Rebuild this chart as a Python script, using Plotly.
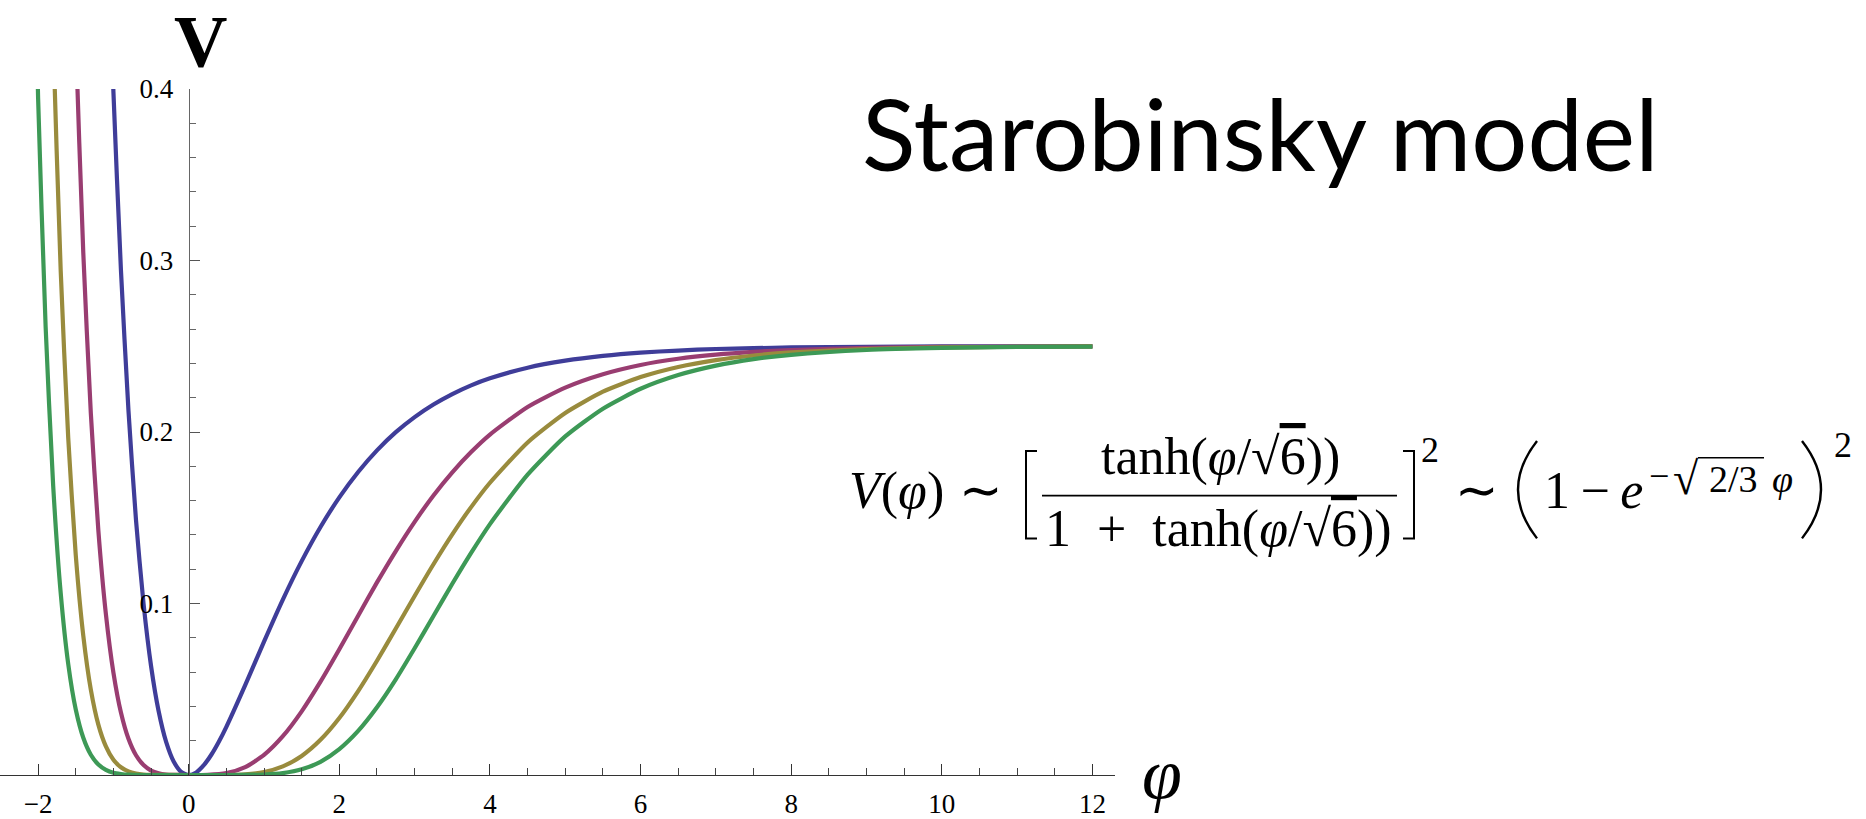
import plotly.graph_objects as go

# ---------------- data ----------------
phi_blue = [-1.1, -1.0, -0.9, -0.8, -0.7, -0.6, -0.5, -0.4, -0.3, -0.2, -0.1, 0.0,
            0.1, 0.2, 0.3, 0.4, 0.5, 0.75, 1.0, 1.25, 1.5, 1.75, 2.0, 2.25, 2.5, 2.75, 3.0, 3.25, 3.5, 3.75, 4.0,
            4.5, 5.0, 5.5, 6.0, 6.5, 7.0, 7.5, 8.0, 9.0, 10.0, 11.0, 12.0]
v_blue = [0.529, 0.3985, 0.2944, 0.2124, 0.1486, 0.0999, 0.0635, 0.0373, 0.0193, 0.0079, 0.0018, 0.0,
          0.0015, 0.0057, 0.0118, 0.0194, 0.0281, 0.0524, 0.0778, 0.1023, 0.1247, 0.1446, 0.1619, 0.1767,
          0.1893, 0.1999, 0.2087, 0.2160, 0.2221, 0.2272, 0.2313,
          0.2375, 0.2416, 0.2444, 0.2463, 0.2475, 0.2484, 0.2489, 0.2493, 0.2497, 0.2499, 0.2499, 0.2500]

phi_red = [-1.6, -1.5, -1.4, -1.3, -1.2, -1.1, -1.0, -0.9, -0.8, -0.7, -0.6, -0.5, -0.4, -0.3, -0.2, 0.0,
           0.25, 0.5, 0.75, 1.0, 1.25, 1.5, 1.75, 2.0, 2.25, 2.5, 2.75, 3.0, 3.25, 3.5, 3.75, 4.0,
           4.5, 5.0, 5.5, 6.0, 6.5, 7.0, 7.5, 8.0, 9.0, 10.0, 11.0, 12.0]
v_red = [0.597, 0.4302, 0.3044, 0.2110, 0.1427, 0.0939, 0.0597, 0.0364, 0.0211, 0.0115, 0.0058, 0.0026,
         0.0010, 0.0003, 0.0001, 0.0,
         0.0001, 0.0011, 0.0046, 0.0117, 0.0226, 0.0371, 0.0544, 0.0733, 0.0929, 0.1123, 0.1306, 0.1476,
         0.1630, 0.1765, 0.1883, 0.1985,
         0.2146, 0.2259, 0.2337, 0.2391, 0.2427, 0.2451, 0.2467, 0.2478, 0.2490, 0.2496, 0.2498, 0.2499]

phi_gold = [-1.9, -1.8, -1.7, -1.6, -1.5, -1.4, -1.3, -1.2, -1.1, -1.0, -0.9, -0.8, -0.7, -0.6, -0.5, 0.0,
            0.5, 0.75, 1.0, 1.25, 1.5, 1.75, 2.0, 2.25, 2.5, 2.75, 3.0, 3.25, 3.5, 3.75, 4.0,
            4.5, 5.0, 5.5, 6.0, 6.5, 7.0, 7.5, 8.0, 9.0, 10.0, 11.0, 12.0]
v_gold = [0.618, 0.4304, 0.2941, 0.1966, 0.1282, 0.0812, 0.0498, 0.0294, 0.0167, 0.0089, 0.0045, 0.0021,
          0.0009, 0.0003, 0.0001, 0.0,
          0.0000, 0.0004, 0.0017, 0.0050, 0.0111, 0.0205, 0.0332, 0.0489, 0.0666, 0.0854, 0.1044, 0.1229,
          0.1403, 0.1562, 0.1704,
          0.1939, 0.2111, 0.2235, 0.2320, 0.2379, 0.2419, 0.2446, 0.2464, 0.2484, 0.2493, 0.2497, 0.2499]

phi_green = [-2.1, -2.0, -1.9, -1.8, -1.7, -1.6, -1.5, -1.4, -1.3, -1.2, -1.1, -1.0, -0.9, -0.8, -0.6, 0.0,
             0.5, 1.0, 1.25, 1.5, 1.75, 2.0, 2.25, 2.5, 2.75, 3.0, 3.25, 3.5, 3.75, 4.0,
             4.5, 5.0, 5.5, 6.0, 6.5, 7.0, 7.5, 8.0, 9.0, 10.0, 11.0, 12.0]
v_green = [0.584, 0.3946, 0.2612, 0.1687, 0.1061, 0.0647, 0.0382, 0.0217, 0.0118, 0.0061, 0.0030, 0.0013,
           0.0006, 0.0002, 0.0000, 0.0,
           0.0, 0.0003, 0.0011, 0.0033, 0.0077, 0.0151, 0.0257, 0.0395, 0.0558, 0.0739, 0.0927, 0.1115,
           0.1295, 0.1463,
           0.1751, 0.1974, 0.2136, 0.2252, 0.2332, 0.2387, 0.2425, 0.2450, 0.2478, 0.2490, 0.2496, 0.2498]

x_tick_vals = [-2, 0, 2, 4, 6, 8, 10, 12]
x_tick_text = ["\u22122", "0", "2", "4", "6", "8", "10", "12"]
y_tick_vals = [0.1, 0.2, 0.3, 0.4]
y_tick_text = ["0.1", "0.2", "0.3", "0.4"]

series = [
    (phi_blue, v_blue, "#3F3D99"),
    (phi_red, v_red, "#993D71"),
    (phi_gold, v_gold, "#998B3D"),
    (phi_green, v_green, "#3D9956"),
]

# ---------------- layout geometry ----------------
W, H = 1866, 819
PL, PR, PT, PB = 0, 1115, 89, 779          # plot-area pixel box
x_range = [-2.506, 12.3]
y_range = [0.0, 0.4]


def PX(px):
    return (px - PL) / (PR - PL)


def PY(py):
    return (PB - py) / (PB - PT)


fig = go.Figure()
for xs, ys, col in series:
    fig.add_trace(go.Scatter(x=xs, y=ys, mode="lines",
                             line=dict(color=col, width=4.2, shape="spline", smoothing=0.6),
                             hoverinfo="skip", showlegend=False))

serif = "Liberation Serif, Times New Roman, serif"
tick_font = dict(family=serif, size=27, color="black")

fig.update_layout(
    width=W, height=H,
    margin=dict(l=PL, r=W - PR, t=PT, b=H - PB),
    paper_bgcolor="white", plot_bgcolor="white",
    showlegend=False,
    xaxis=dict(range=x_range, showgrid=False, zeroline=False,
               showline=True, linecolor="#333333", linewidth=1.3,
               ticks="inside", ticklen=11, tickwidth=1.3, tickcolor="#333333",
               tickmode="array", tickvals=x_tick_vals, ticktext=x_tick_text,
               tickfont=tick_font, ticklabelstandoff=4,
               minor=dict(tickmode="linear", tick0=0, dtick=0.5, ticks="inside",
                          ticklen=7, tickwidth=1.1, tickcolor="#444444", showgrid=False),
               anchor="y", fixedrange=True),
    yaxis=dict(range=y_range, showgrid=False, zeroline=False,
               showline=True, linecolor="#666666", linewidth=1.3,
               ticks="inside", ticklen=10, tickwidth=1.3, tickcolor="#555555",
               tickmode="array", tickvals=y_tick_vals, ticktext=y_tick_text,
               tickfont=tick_font, ticklabelstandoff=10,
               minor=dict(tickmode="linear", tick0=0, dtick=0.02, ticks="inside",
                          ticklen=6, tickwidth=1.1, tickcolor="#666666", showgrid=False),
               anchor="free", position=(0 - x_range[0]) / (x_range[1] - x_range[0]),
               side="left", fixedrange=True),
)

ann = []


def text(t, px, py, size, family=serif, xanchor="center", yanchor="middle", color="black"):
    ann.append(dict(text=t, x=PX(px), y=PY(py), xref="paper", yref="paper",
                    showarrow=False, xanchor=xanchor, yanchor=yanchor,
                    font=dict(family=family, size=size, color=color)))


# axis labels
text("<b>V</b>", 200, 42, 74)
text("<i>\u03c6</i>", 1162, 778, 72)

# title
text("Starobinsky model", 860, 133, 99, family="Lato, Calibri, sans-serif", xanchor="left")

# formula
FS = 52
SQ6 = "\u221a<span style='text-decoration:overline'>6</span>"
text("<i>V</i>(<i>\u03c6</i>)", 847, 493, FS, xanchor="left")
text("\u223c", 981, 493, FS)
text("tanh(<i>\u03c6</i>/" + SQ6 + "))", 1220, 459, FS)
text("1\u2002+\u2002tanh(<i>\u03c6</i>/" + SQ6 + "))", 1218, 532, FS)
text("2", 1430, 452, 36)
text("\u223c", 1477, 493, FS)
text("1\u2009\u2212\u2009<i>e</i>", 1542, 493, FS, xanchor="left")
# exponent  -sqrt(2/3) phi
text("\u2212", 1659, 478, 36)
text("\u221a", 1686, 481, 46)
text("2/3", 1733, 481, 38)
text("<i>\u03c6</i>", 1782, 481, 38)
text("2", 1843, 447, 36)

shapes = []


def path(points, width=2.0):
    d = "M " + " L ".join(f"{PX(a):.5f},{PY(b):.5f}" for a, b in points)
    shapes.append(dict(type="path", path=d, xref="paper", yref="paper",
                       line=dict(color="black", width=width)))


def curve(p0, c, p1, width=2.4):
    d = (f"M {PX(p0[0]):.5f},{PY(p0[1]):.5f} Q {PX(c[0]):.5f},{PY(c[1]):.5f} "
         f"{PX(p1[0]):.5f},{PY(p1[1]):.5f}")
    shapes.append(dict(type="path", path=d, xref="paper", yref="paper",
                       line=dict(color="black", width=width)))


# brackets and fraction bar
path([(1037, 453), (1026, 453), (1026, 541), (1037, 541)], width=2.0)
path([(1403, 453), (1414, 453), (1414, 541), (1403, 541)], width=2.0)
path([(1042, 498), (1397, 498)], width=1.6)
# vinculum of the exponent's square root
path([(1698, 460), (1764, 460)], width=1.5)
# big parentheses
curve((1537, 443), (1499, 492), (1537, 541))
curve((1802, 443), (1840, 492), (1802, 541))

fig.update_layout(annotations=ann, shapes=shapes)

fig.write_html("out.html", config={"displayModeBar": False})
